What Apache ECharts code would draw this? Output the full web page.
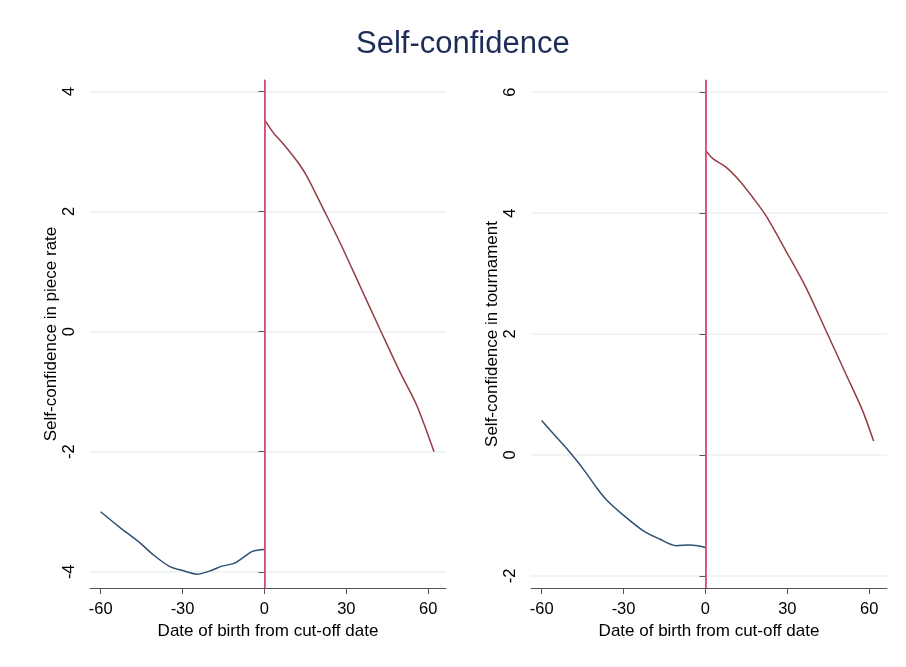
<!DOCTYPE html>
<html>
<head>
<meta charset="utf-8">
<script src="https://cdn.jsdelivr.net/npm/echarts@6/dist/echarts.min.js"></script>
<style>html,body{margin:0;padding:0;background:#fff;}#c{width:906px;height:667px;}</style>
</head>
<body>
<div id="c"></div>
<script>
// Data
var xTicks = [-60, -30, 0, 30, 60];
var yTicksLeft = [-4, -2, 0, 2, 4];
var yTicksRight = [-2, 0, 2, 4, 6];

var leftBelowX = [-60, -53, -45.8, -40.9, -34.8, -29.9, -24.5, -19, -15.9, -11.1, -8, -4.4, 0];
var leftBelowY = [-3.0, -3.26, -3.51, -3.71, -3.91, -3.98, -4.04, -3.97, -3.91, -3.86, -3.77, -3.66, -3.63];
var leftAboveX = [0, 3.3, 7.0, 11.9, 15.5, 21.6, 27.7, 35.0, 42.3, 49.7, 55.8, 62.1];
var leftAboveY = [3.53, 3.31, 3.12, 2.84, 2.59, 2.04, 1.48, 0.76, 0.04, -0.68, -1.23, -2.0];

var rightBelowX = [-60, -54.3, -50.9, -44.8, -39.9, -36.3, -30.2, -22.9, -16.8, -10.7, -5.8, 0];
var rightBelowY = [0.57, 0.28, 0.11, -0.23, -0.54, -0.74, -0.99, -1.25, -1.39, -1.50, -1.49, -1.53];
var rightAboveX = [0, 2.7, 7.5, 12.4, 17.3, 22.1, 29.4, 36.7, 44.0, 51.3, 57.4, 61.6];
var rightAboveY = [5.04, 4.90, 4.76, 4.54, 4.26, 3.96, 3.38, 2.78, 2.07, 1.35, 0.75, 0.23];

var titleText = 'Self-confidence';
var xTitle = 'Date of birth from cut-off date';
var yTitleLeft = 'Self-confidence in piece rate';
var yTitleRight = 'Self-confidence in tournament';
var cutoff = 0;

function zip(a, b) { return a.map(function (v, i) { return [v, b[i]]; }); }

var FONT = 'Liberation Sans, Arial, sans-serif';
var axisCol = '#555555';
var gridCol = '#eaf2f3';

function xAxis(gi) {
  return {
    type: 'value', gridIndex: gi, min: -63.9, max: 66.5,
    axisLine: { show: true, onZero: false, lineStyle: { color: axisCol, width: 1 } },
    axisTick: { show: true, length: 6, customValues: xTicks, lineStyle: { color: axisCol } },
    axisLabel: { customValues: xTicks, color: '#000', fontSize: 16.5, fontFamily: FONT, margin: 13 },
    splitLine: { show: false },
    name: xTitle, nameLocation: 'middle', nameGap: 27,
    nameTextStyle: { color: '#000', fontSize: 17, fontFamily: FONT }
  };
}
function yAxis(gi, min, max, ticks, title) {
  return {
    type: 'value', gridIndex: gi, min: min, max: max,
    axisLine: { show: true, lineStyle: { color: axisCol, width: 1 } },
    axisTick: { show: true, length: 6, customValues: ticks, lineStyle: { color: axisCol } },
    axisLabel: { customValues: ticks, rotate: 90, color: '#000', fontSize: 16.5, fontFamily: FONT, margin: 12 },
    splitLine: { show: true, lineStyle: { color: gridCol, width: 1.5 } },
    name: title, nameLocation: 'middle', nameGap: 29,
    nameTextStyle: { color: '#000', fontSize: 17, fontFamily: FONT }
  };
}
function cutLine() {
  return {
    silent: true, symbol: 'none', label: { show: false },
    lineStyle: { color: '#e0507a', width: 1.8, type: 'solid' },
    data: [{ xAxis: cutoff }]
  };
}
function line(data, xi, color, withCut) {
  var s = {
    type: 'line', xAxisIndex: xi, yAxisIndex: xi, data: data, smooth: 0.3,
    symbol: 'none', lineStyle: { color: color, width: 1.5 }, z: 3
  };
  if (withCut) s.markLine = cutLine();
  return s;
}

var chart = echarts.init(document.getElementById('c'), null, { renderer: 'canvas' });
chart.setOption({
  backgroundColor: '#ffffff',
  animation: false,
  title: {
    text: titleText, left: 351, top: 24,
    textStyle: { color: '#1e2d58', fontSize: 31, fontWeight: 'normal', fontFamily: FONT }
  },
  grid: [
    { left: 90, top: 80, width: 356, height: 508, containLabel: false },
    { left: 531, top: 80, width: 356, height: 508, containLabel: false }
  ],
  xAxis: [xAxis(0), xAxis(1)],
  yAxis: [
    yAxis(0, -4.27, 4.19, yTicksLeft, yTitleLeft),
    yAxis(1, -2.2, 6.2, yTicksRight, yTitleRight)
  ],
  series: [
    line(zip(leftBelowX, leftBelowY), 0, '#2e4f72', true),
    line(zip(leftAboveX, leftAboveY), 0, '#943c44', false),
    line(zip(rightBelowX, rightBelowY), 1, '#2e4f72', true),
    line(zip(rightAboveX, rightAboveY), 1, '#943c44', false)
  ]
});
</script>
</body>
</html>
